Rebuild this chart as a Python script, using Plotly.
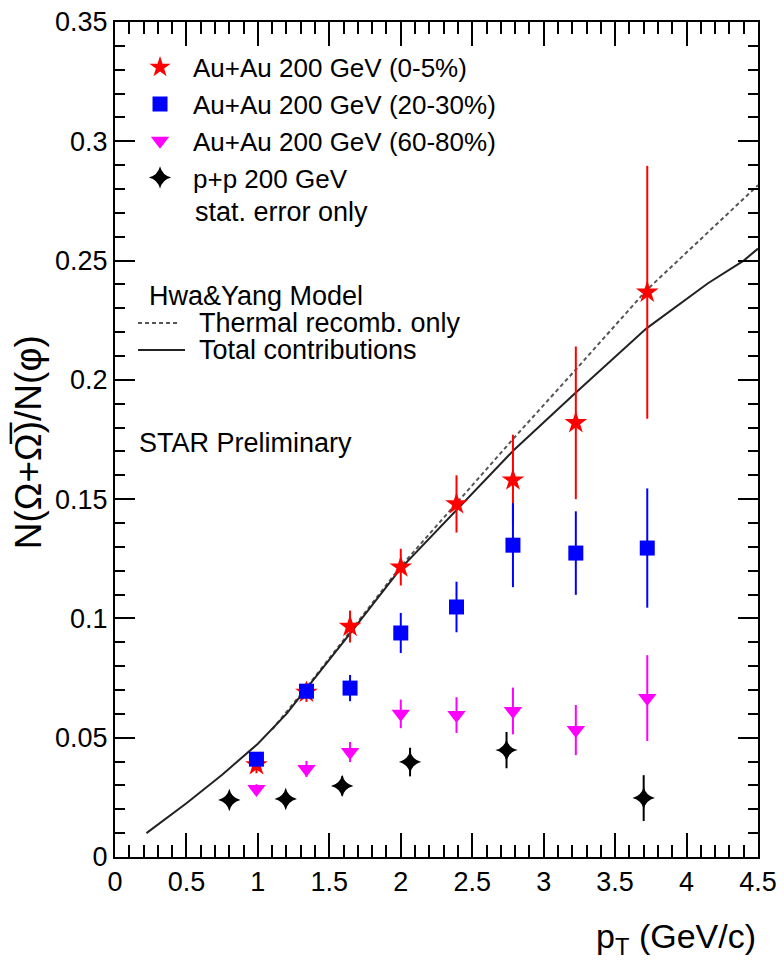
import plotly.graph_objects as go

# Omega/phi ratio vs pT, STAR Au+Au and p+p at 200 GeV
pt_auau = [0.99, 1.34, 1.645, 2.0, 2.39, 2.785, 3.225, 3.725]

ratio_0_5 = [0.0386, 0.0690, 0.0966, 0.1215, 0.1480, 0.1580, 0.1820, 0.2367]
err_0_5 = [0.0035, 0.0040, 0.0067, 0.0077, 0.0120, 0.0190, 0.0320, 0.0530]

ratio_20_30 = [0.0410, 0.0695, 0.0708, 0.0939, 0.1048, 0.1307, 0.1274, 0.1295]
err_20_30 = [0.0020, 0.0030, 0.0055, 0.0084, 0.0106, 0.0176, 0.0175, 0.0250]

ratio_60_80 = [0.0285, 0.0369, 0.0440, 0.0600, 0.0595, 0.0612, 0.0532, 0.0666]
err_60_80 = [0.0020, 0.0034, 0.0042, 0.0060, 0.0075, 0.0098, 0.0105, 0.0180]

pt_pp = [0.80, 1.195, 1.59, 2.065, 2.74, 3.70]
ratio_pp = [0.0239, 0.0243, 0.0298, 0.0398, 0.0448, 0.0247]
err_pp = [0.0020, 0.0030, 0.0040, 0.0060, 0.0076, 0.0096]

# Hwa & Yang recombination model curves
model_total_pt = [0.22, 0.5, 0.75, 1.0, 1.2, 1.35, 1.65, 2.0, 2.4, 2.79, 3.22,
                  3.72, 4.15, 4.4, 4.5]
model_total = [0.0100, 0.0225, 0.0345, 0.0475, 0.0600, 0.0712, 0.0940, 0.1210,
               0.1460, 0.1705, 0.1944, 0.2216, 0.2405, 0.2500, 0.2550]
model_thermal_pt = [1.1, 1.35, 1.65, 2.0, 2.4, 2.79, 3.22, 3.72, 4.5]
model_thermal = [0.0535, 0.0718, 0.0948, 0.1218, 0.1490, 0.1755, 0.2040, 0.2376, 0.2816]

FONT = "Liberation Sans, Arial, Helvetica, sans-serif"
DASH = "4px,3px"

fig = go.Figure()

fig.add_trace(go.Scatter(
    x=model_thermal_pt, y=model_thermal, mode="lines", showlegend=False,
    line=dict(color="#555555", width=2, dash=DASH)))
fig.add_trace(go.Scatter(
    x=model_total_pt, y=model_total, mode="lines", showlegend=False,
    line=dict(color="#222222", width=2)))


def data_series(x, y, err, name, color, symbol, size):
    return go.Scatter(
        x=x, y=y, mode="markers", name=name,
        marker=dict(color=color, symbol=symbol, size=size, line=dict(width=0)),
        error_y=dict(type="data", array=err, visible=True, color=color,
                     thickness=2, width=0))


fig.add_trace(data_series(pt_auau, ratio_0_5, err_0_5, "Au+Au 200 GeV (0-5%)",
                          "#ff0000", "star", 17))
fig.add_trace(data_series(pt_auau, ratio_20_30, err_20_30, "Au+Au 200 GeV (20-30%)",
                          "#0000ff", "square", 15))
fig.add_trace(data_series(pt_auau, ratio_60_80, err_60_80, "Au+Au 200 GeV (60-80%)",
                          "#ff00ff", "triangle-down", 16))
fig.add_trace(data_series(pt_pp, ratio_pp, err_pp, "p+p 200 GeV",
                          "#000000", "star-diamond", 16))

axis_common = dict(
    showline=True, linecolor="black", linewidth=2, mirror="allticks",
    ticks="inside", tickwidth=2, tickcolor="black",
    showgrid=False, zeroline=False,
    tickfont=dict(family=FONT, size=27, color="black"),
)

fig.update_xaxes(range=[0, 4.5], dtick=0.5, tick0=0, ticklen=24,
                 minor=dict(dtick=0.1, ticks="inside", ticklen=12, tickwidth=2,
                            tickcolor="black", showgrid=False),
                 **axis_common)
fig.update_yaxes(range=[0, 0.35], dtick=0.05, tick0=0, ticklen=20,
                 minor=dict(dtick=0.01, ticks="inside", ticklen=10, tickwidth=2,
                            tickcolor="black", showgrid=False),
                 **axis_common)

annotations = [
    dict(text="stat. error only", x=0.1213, y=0.7725, xanchor="left", yanchor="middle"),
    dict(text="Hwa&Yang Model", x=0.0498, y=0.6719, xanchor="left", yanchor="middle"),
    dict(text="Thermal recomb. only", x=0.1275, y=0.6395, xanchor="left", yanchor="middle"),
    dict(text="Total contributions", x=0.1275, y=0.6072, xanchor="left", yanchor="middle"),
    dict(text="STAR Preliminary", x=0.0342, y=0.4958, xanchor="left", yanchor="middle"),
    dict(text="p<sub>T</sub> (GeV/c)", x=1.0, y=-0.0975, xanchor="right",
         yanchor="middle", font=dict(family=FONT, size=34, color="black")),
    dict(text="N(Ω+Ω\u0305)/N(φ)", x=-0.135, y=0.497, xanchor="center",
         yanchor="middle", textangle=-90,
         font=dict(family=FONT, size=37, color="black")),
]
for a in annotations:
    a.setdefault("font", dict(family=FONT, size=27, color="black"))
    a.update(xref="paper", yref="paper", showarrow=False)

shapes = [
    dict(type="line", xref="paper", yref="paper", x0=0.0358, x1=0.1011,
         y0=0.6395, y1=0.6395, line=dict(color="#555555", width=2, dash=DASH)),
    dict(type="line", xref="paper", yref="paper", x0=0.0358, x1=0.1089,
         y0=0.6072, y1=0.6072, line=dict(color="#222222", width=2)),
]

fig.update_layout(
    width=784, height=973,
    margin=dict(l=115, r=26, t=22, b=116, autoexpand=False),
    paper_bgcolor="white", plot_bgcolor="white",
    font=dict(family=FONT, size=27, color="black"),
    showlegend=True,
    legend=dict(x=0.0187, y=0.974, xanchor="left", yanchor="top",
                bgcolor="rgba(0,0,0,0)", borderwidth=0,
                font=dict(family=FONT, size=26, color="black"),
                itemwidth=56, tracegroupgap=0),
    annotations=annotations,
    shapes=shapes,
)

fig.write_html("out.html")
